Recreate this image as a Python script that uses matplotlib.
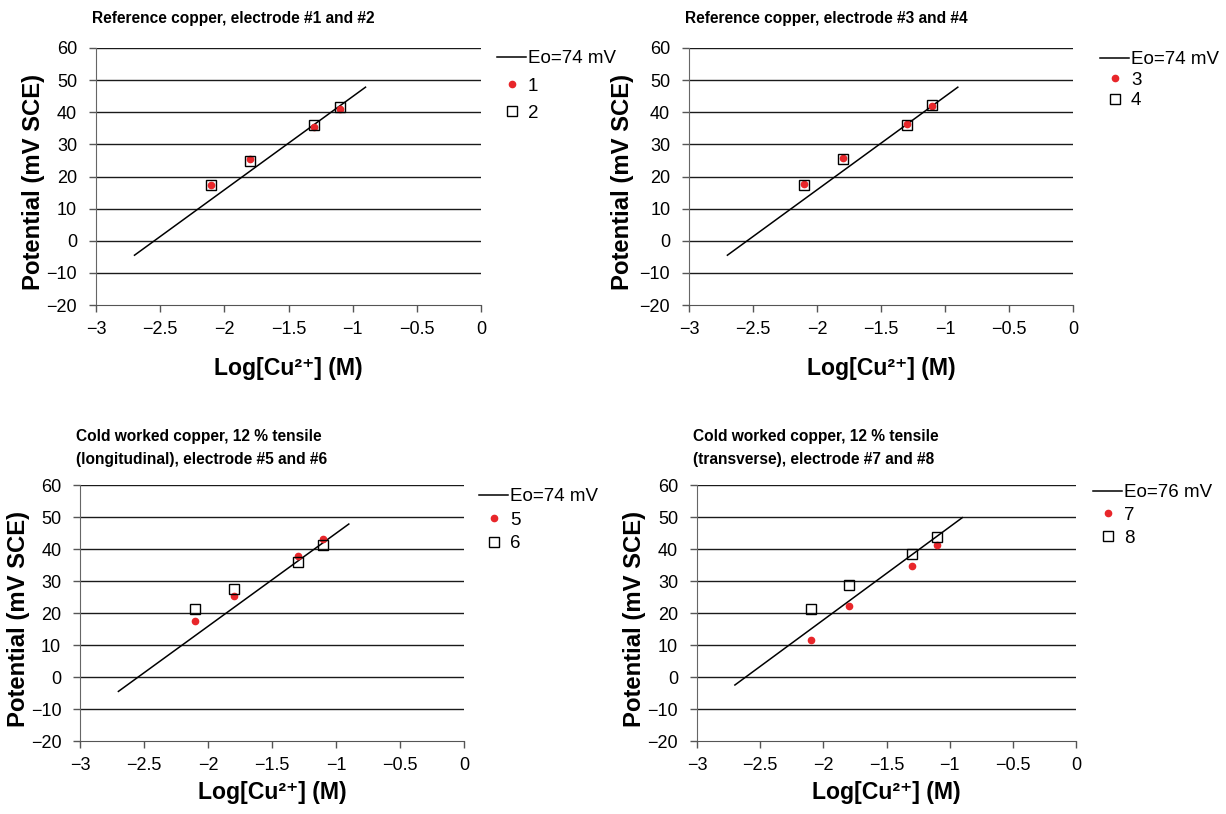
import matplotlib
matplotlib.use("Agg")
import matplotlib.pyplot as plt

plt.rcParams['font.family'] = ['Liberation Sans', 'DejaVu Sans']

# ---- data ----
log_cu = [-2.1, -1.8, -1.3, -1.1]
fit_x = [-2.7, -0.9]

titles = [
    "Reference copper, electrode #1 and #2",
    "Reference copper, electrode #3 and #4",
    "Cold worked copper, 12 % tensile\n(longitudinal), electrode #5 and #6",
    "Cold worked copper, 12 % tensile\n(transverse), electrode #7 and #8",
]
fit_labels = ["Eo=74 mV", "Eo=74 mV", "Eo=74 mV", "Eo=76 mV"]
fit_y = [
    [-4.5, 47.8],
    [-4.5, 47.8],
    [-4.5, 47.8],
    [-2.5, 49.8],
]
dot_labels = ["1", "3", "5", "7"]
square_labels = ["2", "4", "6", "8"]
dot_values = [
    [17.5, 25.3, 35.5, 41.1],
    [17.8, 25.7, 36.2, 42.0],
    [17.5, 25.3, 37.8, 43.1],
    [11.6, 22.1, 34.7, 41.1],
]
square_values = [
    [17.2, 24.7, 36.1, 41.5],
    [17.5, 25.4, 36.0, 42.2],
    [21.1, 27.4, 36.0, 41.4],
    [21.2, 28.9, 38.4, 43.6],
]
x_ticks = [-3, -2.5, -2, -1.5, -1, -0.5, 0]
y_ticks = [-20, -10, 0, 10, 20, 30, 40, 50, 60]

# ---- layout (pixel boxes: left, right, top, bottom) ----
W, H = 1226, 814
boxes = [
    (96, 481, 48, 305),
    (689, 1073, 48, 305),
    (80, 464, 485, 741),
    (697, 1076, 485, 741),
]
# legend anchor (px): handle left, top of first row; row spacing
leg_anchor = [(497, 50), (1100, 51), (479, 488), (1093, 484)]
leg_spacing = [0.55, 0.18, 0.34, 0.30]
ylabel_x = [-51, -55, -50, -51]   # px offset of label's right edge from spine
xlabel_pad = [14, 14, 4.8, 4.8]

fig = plt.figure(figsize=(W / 100, H / 100), dpi=100)

for i in range(4):
    l, r, t, b = boxes[i]
    ax = fig.add_axes([l / W, 1 - b / H, (r - l) / W, (b - t) / H])
    ax.set_xlim(-3, 0)
    ax.set_ylim(-20, 60)
    ax.set_xticks(x_ticks)
    ax.set_xticklabels(["\u22123", "\u22122.5", "\u22122", "\u22121.5", "\u22121", "\u22120.5", "0"])
    ax.set_yticks(y_ticks)
    ax.set_yticklabels([("\u2212" + str(-v)) if v < 0 else str(v) for v in y_ticks])
    for v in y_ticks:
        if v > -20:
            ax.axhline(v, color="#1a1a1a", lw=1.0, zorder=1)
    for s in ("top", "right"):
        ax.spines[s].set_visible(False)
    ax.spines["left"].set_color("#666666")
    ax.spines["bottom"].set_color("#555555")
    ax.tick_params(direction="out", length=5, width=1, color="#555555",
                   labelsize=13)
    ax.tick_params(axis="x", pad=6.5)
    ax.tick_params(axis="y", pad=8.5)

    ax.plot(fit_x, fit_y[i], color="black", lw=1.1, label=fit_labels[i], zorder=3)
    ax.plot(log_cu, dot_values[i], linestyle="none", marker="o", ms=4.5,
            color="#e8262a", label=dot_labels[i], zorder=4)
    ax.plot(log_cu, square_values[i], linestyle="none", marker="s", ms=7.5,
            markerfacecolor="none", markeredgecolor="black", mew=1.0,
            label=square_labels[i], zorder=5)

    ax.set_ylabel("Potential (mV SCE)", fontsize=17.2, fontweight="bold")
    ax.yaxis.set_label_coords(ylabel_x[i] / (r - l), 0.477)
    ax.set_xlabel("Log[Cu\u00b2\u207a] (M)", fontsize=16.6, fontweight="bold",
                  labelpad=xlabel_pad[i])
    ax.set_title(titles[i], fontsize=11.2, fontweight="bold", loc="left",
                 x=-0.01, pad=18 if i < 2 else 15, linespacing=1.65)

    lx, ly = leg_anchor[i]
    ax.legend(loc="upper left", bbox_to_anchor=(lx / W, 1 - ly / H),
              bbox_transform=fig.transFigure, frameon=False,
              fontsize=13.5, handlelength=1.55, handletextpad=0.1,
              borderaxespad=0, borderpad=0, labelspacing=leg_spacing[i])

fig.savefig("out.png", dpi=100)
